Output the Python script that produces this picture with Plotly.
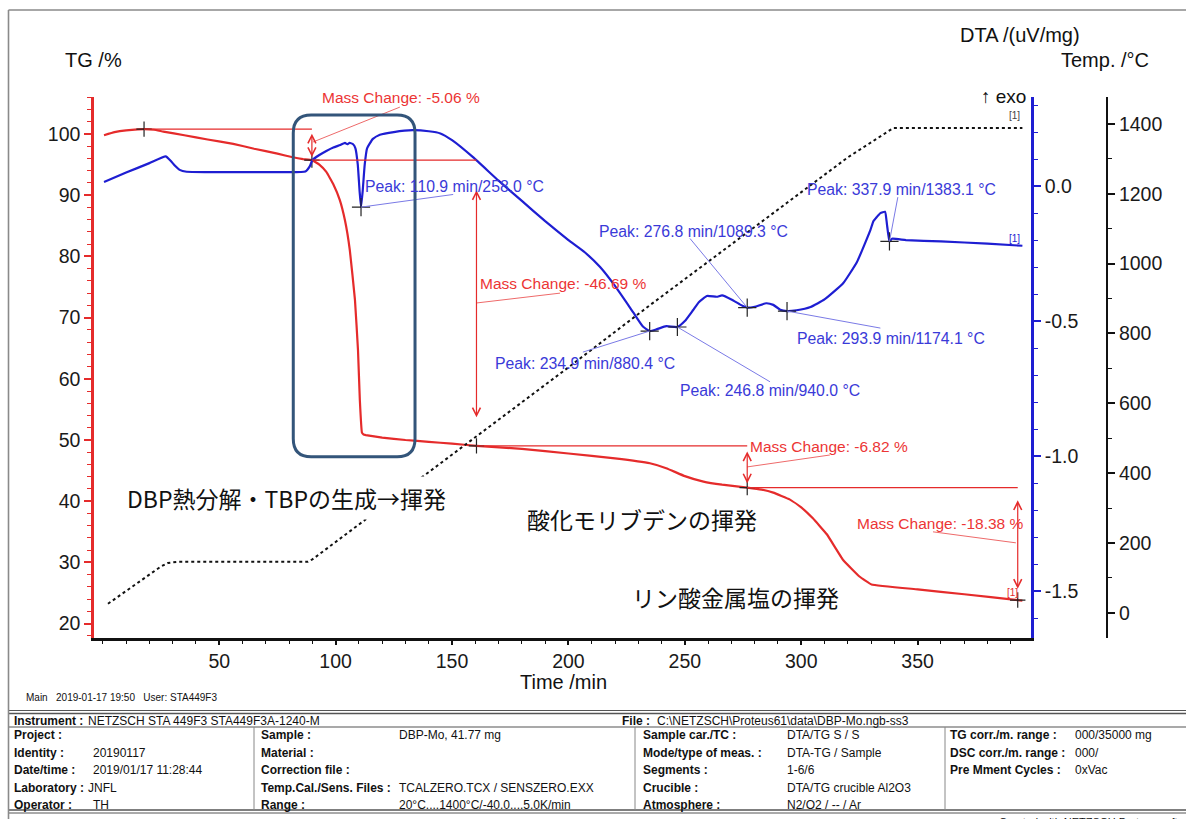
import plotly.graph_objects as go

W, H = 1186, 819

# ---------------- measured curves ----------------
tg_time = [0.5, 5, 10, 15, 17.7, 22, 26, 35, 45, 56, 65, 75, 81.6, 86, 89.8,
           93, 96, 99, 101.8, 104, 106.1, 108.3, 109.6, 110.4, 111.3, 112, 113,
           120, 130, 140, 150, 160.5, 180, 200, 220, 235, 242, 250, 258, 266,
           276.8, 283, 288, 295, 300, 305, 311, 318, 325, 330.2, 350, 370, 393, 395]
tg_mass = [99.8, 100.3, 100.6, 100.75, 100.8, 100.7, 100.4, 99.8, 99.1, 98.4, 97.6,
           96.8, 96.2, 95.9, 95.74, 95.0, 93.8, 91.8, 89.2, 85.9, 81.0, 72.9, 64.7,
           56.5, 51.2, 50.9, 50.8, 50.4, 50.0, 49.7, 49.4, 49.05, 48.55, 47.8,
           47.0, 46.2, 45.4, 44.1, 43.2, 42.7, 42.23, 41.9, 41.4, 40.3, 39.0, 37.2,
           34.6, 30.4, 27.7, 26.4, 25.6, 24.8, 23.85, 23.75]

dta_time = [0.5, 10, 20, 27, 29, 31, 33, 36, 45, 60, 75, 87, 89, 90, 93, 96, 99,
            102, 104, 105, 106, 107.5, 108.5, 109.5, 110.3, 110.9, 111.6, 112.5,
            113.5, 116, 119, 125, 133, 140, 145, 150, 159, 170, 180, 190, 200,
            207, 213.6, 220, 228, 232, 234.9, 238, 242, 246.8, 250, 253.5, 256,
            259.5, 263.7, 266, 270, 274, 276.8, 280, 285, 288, 291, 293.9, 298,
            304, 310, 318, 324, 329.7, 331, 332.5, 334, 336, 336.8, 337.9, 339,
            345, 360, 380, 395]
dta_signal = [0.015, 0.05, 0.085, 0.11, 0.095, 0.075, 0.06, 0.053, 0.052, 0.052,
              0.052, 0.054, 0.075, 0.096, 0.115, 0.13, 0.143, 0.152, 0.16, 0.155,
              0.16, 0.155, 0.14, 0.08, -0.02, -0.078, -0.02, 0.08, 0.14, 0.175,
              0.19, 0.2, 0.207, 0.203, 0.195, 0.17, 0.107, 0.02, -0.055, -0.13,
              -0.2, -0.245, -0.3, -0.37, -0.47, -0.52, -0.537, -0.53, -0.519,
              -0.522, -0.5, -0.46, -0.43, -0.407, -0.41, -0.405, -0.42, -0.44,
              -0.45, -0.447, -0.434, -0.44, -0.458, -0.463, -0.46, -0.448, -0.42,
              -0.36, -0.28, -0.163, -0.13, -0.114, -0.1, -0.095, -0.14, -0.205,
              -0.195, -0.2, -0.205, -0.213, -0.221]

temp_time = [2.2, 10, 20, 25, 28, 32, 60, 88, 90, 100, 110.9, 150, 200, 234.9,
             246.8, 276.8, 293.9, 320, 337.9, 339.5, 395]
temp_value = [26, 63, 110, 133, 143, 146, 146, 146, 153, 203, 258.0, 453, 703,
              880.4, 940.0, 1089.3, 1174.1, 1304, 1383.1, 1388, 1388]

# ---------------- evaluation results ----------------
mass_change = [-5.06, -46.69, -6.82, -18.38]
mass_start = 100.8
mass_step_time = [17.7, 89.8, 160.5, 276.8, 393.0]

peak_time = [110.9, 234.9, 246.8, 276.8, 293.9, 337.9]
peak_temp = [258.0, 880.4, 940.0, 1089.3, 1174.1, 1383.1]

# ---------------- axes ----------------
time_ticks = [50, 100, 150, 200, 250, 300, 350]
time_range = [-3.8, 398.7]
tg_range = [17.65, 106.05]
dta_range = [-1.674, 0.33]
dta_ticks = [0.0, -0.5, -1.0, -1.5]
dta_tick_text = ["0.0", "-0.5", "-1.0", "-1.5"]
temp_range = [-72, 1477]

# ---------------- colours / fonts ----------------
RED = "#e52b2b"
RED_TXT = "#ec3535"
BLUE = "#1e1ed2"
BLUE_TXT = "#3a3ad8"
BLUE_LEAD = "#7a7ae6"
BOX = "#33557a"
SANS = "Liberation Sans, Arial, sans-serif"
JP = "Noto Sans CJK JP"


def PX(x):
    return x / W


def PY(y):
    return 1 - y / H


mass_level = [mass_start]
for d in mass_change:
    mass_level.append(round(mass_level[-1] + d, 2))

peak_dta = [dta_signal[dta_time.index(t)] for t in peak_time]

fig = go.Figure()

fig.add_trace(go.Scatter(x=temp_time, y=temp_value, yaxis="y3", mode="lines",
                         line=dict(color="#111111", width=2, dash="dot"),
                         hoverinfo="skip", showlegend=False))
fig.add_trace(go.Scatter(x=dta_time, y=dta_signal, yaxis="y2", mode="lines",
                         line=dict(color=BLUE, width=2.2, shape="spline", smoothing=0.4),
                         showlegend=False))
fig.add_trace(go.Scatter(x=tg_time, y=tg_mass, yaxis="y", mode="lines",
                         line=dict(color=RED, width=2.2, shape="spline", smoothing=0.25),
                         showlegend=False))

# evaluation markers
fig.add_trace(go.Scatter(x=mass_step_time, y=mass_level, yaxis="y", mode="markers",
                         marker=dict(symbol="cross-thin", size=11,
                                     line=dict(color="#222222", width=1.2)),
                         showlegend=False))
fig.add_trace(go.Scatter(x=peak_time, y=peak_dta, yaxis="y2", mode="markers",
                         marker=dict(symbol="cross-thin", size=13,
                                     line=dict(color="#222222", width=1.2)),
                         showlegend=False))

shapes = []
annotations = []

# mass-change evaluation: reference lines, double arrows, labels, leaders
mc_label_xy = [(93.3, 105.9), (161.1, 75.65), (277.1, 49.0), (323.2, 36.44)]
mc_leader = [((90.3, 98.7), (127.6, 104.4)), ((160.7, 72.4), (196.4, 74.0)),
             ((276.7, 45.6), (312.3, 47.55)), ((392.2, 33.2), (356.6, 35.0))]
for i, d in enumerate(mass_change):
    top, bot = mass_level[i], mass_level[i + 1]
    shapes.append(dict(type="line", xref="x", yref="y",
                       x0=mass_step_time[i], x1=mass_step_time[i + 1], y0=top, y1=top,
                       line=dict(color=RED, width=1.3)))
    xa = mass_step_time[i + 1]
    inset = 0.1 * (top - bot)
    annotations.append(dict(x=xa, y=bot + inset, ax=xa, ay=top - inset,
                            xref="x", yref="y", axref="x", ayref="y", text="",
                            showarrow=True, arrowside="end+start", arrowhead=5,
                            arrowsize=1.3, arrowwidth=1.2, arrowcolor=RED,
                            startarrowhead=5, startarrowsize=1.3, standoff=0,
                            startstandoff=0))
    lx, ly = mc_label_xy[i]
    annotations.append(dict(x=lx, y=ly, xref="x", yref="y", xanchor="left",
                            yanchor="middle", showarrow=False,
                            text=f"Mass Change: {d:.2f} %",
                            font=dict(family=SANS, size=15.5, color=RED_TXT)))
    (x0, y0), (x1, y1) = mc_leader[i]
    shapes.append(dict(type="line", xref="x", yref="y", x0=x0, y0=y0, x1=x1, y1=y1,
                       line=dict(color="#ee6a6a", width=1)))

# peak evaluation labels on the DTA curve
pk_label_xy = [(111.9, 0.0), (167.7, -0.657), (247.2, -0.758), (212.1, -0.169),
               (297.3, -0.563), (301.6, -0.011)]
pk_leader_end = [(150.5, -0.031), (206.2, -0.615), (286.6, -0.725),
                 (252.2, -0.194), (334.0, -0.526), (341.5, -0.041)]
for i, t in enumerate(peak_time):
    lx, ly = pk_label_xy[i]
    annotations.append(dict(x=lx, y=ly, xref="x", yref="y2", xanchor="left",
                            yanchor="middle", showarrow=False,
                            text=f"Peak: {t:.1f} min/{peak_temp[i]:.1f} °C",
                            font=dict(family=SANS, size=15.8, color=BLUE_TXT)))
    ex, ey = pk_leader_end[i]
    shapes.append(dict(type="line", xref="x", yref="y2", x0=t, y0=peak_dta[i],
                       x1=ex, y1=ey, line=dict(color=BLUE_LEAD, width=1)))

# rounded highlight box around the first decomposition step
bx0, bx1, by0, by1 = 81.8, 134.1, 47.27, 103.1
rx, ry = 7.7, 2.95
box_path = (f"M{bx0 + rx},{by1} L{bx1 - rx},{by1} Q{bx1},{by1} {bx1},{by1 - ry} "
            f"L{bx1},{by0 + ry} Q{bx1},{by0} {bx1 - rx},{by0} L{bx0 + rx},{by0} "
            f"Q{bx0},{by0} {bx0},{by0 + ry} L{bx0},{by1 - ry} Q{bx0},{by1} {bx0 + rx},{by1} Z")
shapes.append(dict(type="path", xref="x", yref="y", path=box_path,
                   line=dict(color=BOX, width=3)))

# Japanese explanations
jp_notes = [("DBP熱分解・TBPの生成→揮発", 122, 498),
            ("酸化モリブデンの揮発", 522, 519),
            ("リン酸金属塩の揮発", 627, 597)]
for txt, x, y in jp_notes:
    annotations.append(dict(x=PX(x), y=PY(y), xref="paper", yref="paper",
                            xanchor="left", yanchor="middle", showarrow=False,
                            text=txt, bgcolor="white", borderpad=4,
                            font=dict(family=JP, size=23, color="#111111")))

# axis titles and small tags
titles = [("TG /%", 63, 60, "left", 20, "#111111"),
          ("DTA /(uV/mg)", 958, 35, "left", 20, "#111111"),
          ("Temp. /°C", 1059, 60, "left", 20, "#111111"),
          ("Time /min", 563, 682, "center", 20, "#111111"),
          ("↑ exo", 1028, 96, "right", 19, "#111111"),
          ("[1]", 1022, 116, "right", 10, "#444444"),
          ("[1]", 1022, 238, "right", 10, BLUE),
          ("[1]", 1020, 592, "right", 10, RED)]
for txt, x, y, anc, sz, col in titles:
    annotations.append(dict(x=PX(x), y=PY(y), xref="paper", yref="paper",
                            xanchor=anc, yanchor="middle", showarrow=False,
                            text=txt, font=dict(family=SANS, size=sz, color=col)))


# ---------------- measurement information block ----------------
def info(txt, x, y, size=12, color="#111111"):
    annotations.append(dict(x=PX(x), y=PY(y), xref="paper", yref="paper",
                            xanchor="left", yanchor="middle", showarrow=False,
                            text=txt, font=dict(family=SANS, size=size, color=color)))


info("Main   2019-01-17 19:50   User: STA449F3", 24, 697, 10)
info("<b>Instrument :</b>", 12, 721)
info("NETZSCH STA 449F3 STA449F3A-1240-M", 86, 721)
info("<b>File :</b>", 620, 721)
info(r"C:\NETZSCH\Proteus61\data\DBP-Mo.ngb-ss3", 655, 721)

row_y = [735, 752.7, 770, 787.7, 805]
col1_labels = ["Project :", "Identity :", "Date/time :", "Laboratory :", "Operator :"]
col1_values = ["", "20190117", "2019/01/17 11:28:44", "JNFL", "TH"]
col1_value_x = [91, 91, 91, 86, 91]
col2_labels = ["Sample :", "Material :", "Correction file :", "Temp.Cal./Sens. Files :", "Range :"]
col2_values = ["DBP-Mo, 41.77 mg", "", "", "TCALZERO.TCX / SENSZERO.EXX",
               "20°C....1400°C/-40.0....5.0K/min"]
col3_labels = ["Sample car./TC :", "Mode/type of meas. :", "Segments :", "Crucible :", "Atmosphere :"]
col3_values = ["DTA/TG S / S", "DTA-TG / Sample", "1-6/6", "DTA/TG crucible Al2O3", "N2/O2 / -- / Ar"]
col4_labels = ["TG corr./m. range :", "DSC corr./m. range :", "Pre Mment Cycles :", "", ""]
col4_values = ["000/35000 mg", "000/", "0xVac", "", ""]

for k, y in enumerate(row_y):
    info(f"<b>{col1_labels[k]}</b>", 12, y)
    if col1_values[k]:
        info(col1_values[k], col1_value_x[k], y)
    info(f"<b>{col2_labels[k]}</b>", 259, y)
    if col2_values[k]:
        info(col2_values[k], 397, y)
    info(f"<b>{col3_labels[k]}</b>", 641, y)
    info(col3_values[k], 785, y)
    if col4_labels[k]:
        info(f"<b>{col4_labels[k]}</b>", 948, y)
        info(col4_values[k], 1073, y)

info("Created with NETZSCH Proteus software", 997, 822, 11)

TABLE = "#555555"
for y, w in [(710.5, 1), (713.5, 1.6), (727, 1.2), (810, 1.6), (813, 1)]:
    shapes.append(dict(type="line", xref="paper", yref="paper", x0=PX(8), x1=PX(W),
                       y0=PY(y), y1=PY(y), line=dict(color=TABLE, width=w)))
for x in [254, 635, 945]:
    shapes.append(dict(type="line", xref="paper", yref="paper", x0=PX(x), x1=PX(x),
                       y0=PY(727), y1=PY(810), line=dict(color="#888888", width=1)))

# outer frame
shapes.append(dict(type="line", xref="paper", yref="paper", x0=PX(8.5), x1=PX(8.5),
                   y0=PY(10), y1=0, line=dict(color="#8a8a8a", width=1.6)))
shapes.append(dict(type="line", xref="paper", yref="paper", x0=PX(8.5), x1=1,
                   y0=PY(10), y1=PY(10), line=dict(color="#8a8a8a", width=1.6)))

tick_font = dict(family=SANS, size=19.5, color="#1a1a1a")
X_DOM = [PX(94), PX(1031)]
Y_DOM = [PY(638), PY(97)]

fig.update_layout(
    width=W, height=H,
    margin=dict(l=0, r=0, t=0, b=0),
    paper_bgcolor="white", plot_bgcolor="white",
    showlegend=False,
    shapes=shapes, annotations=annotations,
    xaxis=dict(domain=X_DOM, range=time_range, tickvals=time_ticks,
               showline=True, linecolor="#111111", linewidth=2.5,
               ticks="outside", ticklen=4, tickwidth=1.5, tickcolor="#111111",
               minor=dict(ticks="outside", ticklen=3, tickwidth=1.2,
                          tickcolor="#111111", dtick=10, tick0=0, showgrid=False),
               showgrid=False, zeroline=False, tickfont=tick_font, anchor="y"),
    yaxis=dict(domain=Y_DOM, range=tg_range, tick0=0, dtick=10,
               showline=True, linecolor=RED, linewidth=2.5,
               ticks="outside", ticklen=7, tickwidth=1.5, tickcolor=RED,
               minor=dict(ticks="outside", ticklen=4, tickwidth=1.2,
                          tickcolor=RED, dtick=2, tick0=0, showgrid=False),
               showgrid=False, zeroline=False, tickfont=tick_font),
    yaxis2=dict(overlaying="y", side="right", anchor="x", range=dta_range,
                tickmode="array", tickvals=dta_ticks, ticktext=dta_tick_text,
                showline=True, linecolor=BLUE, linewidth=2.5,
                ticks="outside", ticklen=7, tickwidth=1.5, tickcolor=BLUE,
                minor=dict(ticks="outside", ticklen=4, tickwidth=1.2,
                           tickcolor=BLUE, dtick=0.1, tick0=0, showgrid=False),
                showgrid=False, zeroline=False, tickfont=tick_font),
    yaxis3=dict(overlaying="y", side="right", anchor="free", position=PX(1107),
                range=temp_range, tick0=0, dtick=200,
                showline=True, linecolor="#111111", linewidth=2,
                ticks="outside", ticklen=7, tickwidth=1.5, tickcolor="#111111",
                minor=dict(ticks="outside", ticklen=4, tickwidth=1.2,
                           tickcolor="#111111", dtick=100, tick0=0, showgrid=False),
                showgrid=False, zeroline=False, tickfont=tick_font),
)

fig.write_html("out.html")
